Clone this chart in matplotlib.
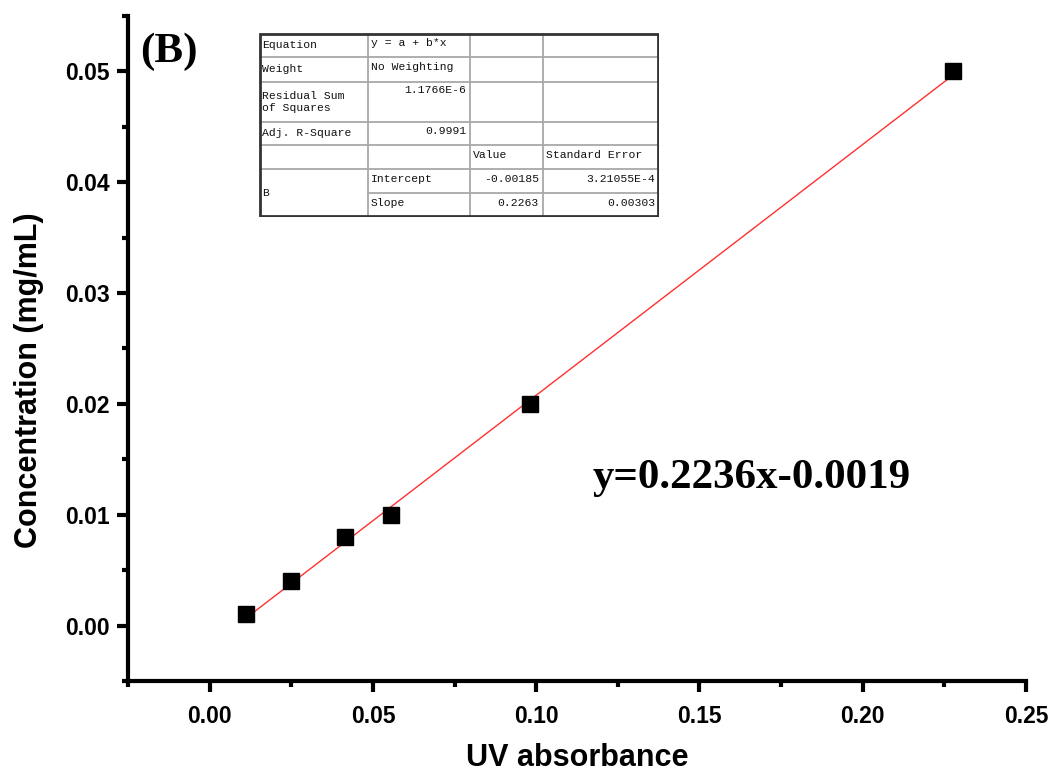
import matplotlib
matplotlib.use("Agg")
import matplotlib.pyplot as plt
from matplotlib.ticker import MultipleLocator, FormatStrFormatter
import numpy as np

# ---- data ----
uv_absorbance = [0.0110, 0.0248, 0.0414, 0.0555, 0.0982, 0.2276]
concentration = [0.001, 0.004, 0.008, 0.010, 0.020, 0.050]
fit_intercept = -0.00185
fit_slope = 0.2263
equation_text = "y=0.2236x-0.0019"
panel_label = "(B)"
x_label = "UV absorbance"
y_label = "Concentration (mg/mL)"

table_col0 = ["Equation", "Weight", "Residual Sum\nof Squares", "Adj. R-Square", "", "B"]
table_col1 = ["y = a + b*x", "No Weighting", "1.1766E-6", "0.9991", "", "Intercept", "Slope"]
table_col2 = ["", "", "", "", "Value", "-0.00185", "0.2263"]
table_col3 = ["", "", "", "", "Standard Error", "3.21055E-4", "0.00303"]

W, H = 1053, 779
fig = plt.figure(figsize=(W / 100, H / 100), dpi=100)
ax = fig.add_axes([128 / W, 1 - 681 / H, (1026 - 128) / W, (681 - 16) / H])

ax.plot(uv_absorbance, concentration, "s", color="black", markersize=11, zorder=3)
xf = np.array([min(uv_absorbance), max(uv_absorbance)])
ax.plot(xf, fit_intercept + fit_slope * xf, color="#ff3030", lw=1, zorder=2)

ax.set_xlim(-0.025, 0.25)
ax.set_ylim(-0.005, 0.055)
ax.xaxis.set_major_locator(MultipleLocator(0.05))
ax.xaxis.set_minor_locator(MultipleLocator(0.025))
ax.yaxis.set_major_locator(MultipleLocator(0.01))
ax.yaxis.set_minor_locator(MultipleLocator(0.005))
ax.xaxis.set_major_formatter(FormatStrFormatter("%.2f"))
ax.yaxis.set_major_formatter(FormatStrFormatter("%.2f"))

for s in ["top", "right"]:
    ax.spines[s].set_visible(False)
for s in ["left", "bottom"]:
    ax.spines[s].set_linewidth(3)
ax.tick_params(which="major", direction="out", length=8, width=3)
ax.tick_params(which="minor", direction="out", length=4, width=3)
ax.tick_params(axis="x", which="major", pad=9)
ax.tick_params(axis="y", which="major", pad=5)

for lab in ax.get_xticklabels() + ax.get_yticklabels():
    lab.set_fontfamily("Liberation Sans")
    lab.set_fontweight("bold")
    lab.set_fontsize(16.5)

ax.set_xlabel(x_label, family="Liberation Sans", weight="bold", size=22)
ax.set_ylabel(y_label, family="Liberation Sans", weight="bold", size=22)
ax.xaxis.set_label_coords(0.5, -0.093)
ax.yaxis.set_label_coords(-0.094, 0.453)

ax.text(0.013, 0.946, panel_label, transform=ax.transAxes, family="Liberation Serif",
        weight="bold", size=31, va="center", ha="left")
ax.text(0.517, 0.305, equation_text, transform=ax.transAxes, family="Liberation Serif",
        weight="bold", size=31, va="center", ha="left")

# ---- fit summary table ----
tx0, ty0, tx1, ty1 = 259, 33, 659, 217
tax = fig.add_axes([tx0 / W, 1 - ty1 / H, (tx1 - tx0) / W, (ty1 - ty0) / H])
tw, th = tx1 - tx0, ty1 - ty0
tax.set_xlim(0, tw)
tax.set_ylim(th, 0)
tax.axis("off")
tax.add_patch(plt.Rectangle((0, 0), tw, th, facecolor="white", edgecolor="none", zorder=0))
cols = [0, 109, 211, 284, tw]
rows = [0, 24, 49, 89, 112, 136, 160, th]
gc = "#a8a8a8"
for c in cols[1:-1]:
    tax.plot([c, c], [0, th], color=gc, lw=1.3)
for i, r in enumerate(rows[1:-1]):
    start = 109 if i == 5 else 0
    tax.plot([start, tw], [r, r], color=gc, lw=1.3)
tax.add_patch(plt.Rectangle((1, 1), tw - 2, th - 2, fill=False, edgecolor="#333333", lw=2, zorder=5))

mono = dict(family="Liberation Mono", size=8.2, color="#111111")
col0_rows = [(0, 1), (1, 2), (2, 3), (3, 4), (4, 5), (5, 7)]
for txt, (r0, r1) in zip(table_col0, col0_rows):
    if txt:
        tax.text(3, (rows[r0] + rows[r1]) / 2, txt, va="center", ha="left",
                 linespacing=1.2, **mono)

right_align = {(1, 2), (1, 3), (2, 5), (2, 6), (3, 5), (3, 6)}
for ci, colvals in enumerate([table_col1, table_col2, table_col3], start=1):
    for ri, txt in enumerate(colvals):
        if not txt:
            continue
        if ri == 2:
            y = rows[ri] + 3
            va = "top"
        else:
            y = (rows[ri] + rows[ri + 1]) / 2 - 2
            va = "center"
        if (ci, ri) in right_align:
            tax.text(cols[ci + 1] - 4, y, txt, va=va, ha="right", **mono)
        else:
            tax.text(cols[ci] + 3, y, txt, va=va, ha="left", **mono)

fig.savefig("out.png", dpi=100)
